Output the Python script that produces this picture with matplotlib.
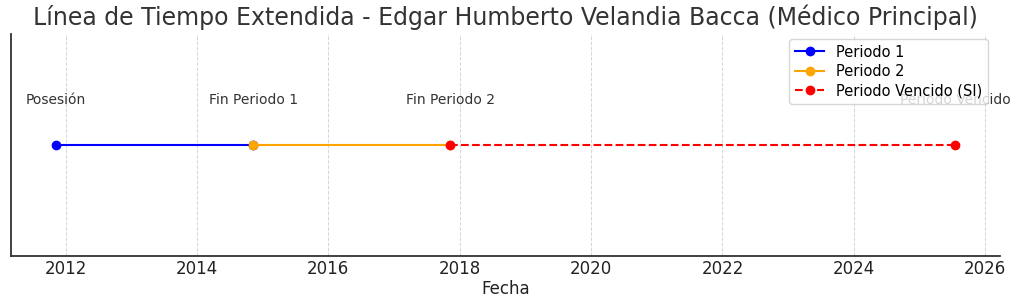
import datetime as dt
import matplotlib
matplotlib.use("Agg")
import matplotlib.pyplot as plt
import matplotlib.dates as mdates

# fechas clave
posesion = dt.datetime(2011, 11, 10)
fin_periodo_1 = dt.datetime(2014, 11, 10)
fin_periodo_2 = dt.datetime(2017, 11, 10)
fin_vencido = dt.datetime(2025, 7, 20)

periodo_1 = [posesion, fin_periodo_1]
periodo_2 = [fin_periodo_1, fin_periodo_2]
periodo_vencido = [fin_periodo_2, fin_vencido]

etiquetas = ["Posesión", "Fin Periodo 1", "Fin Periodo 2", "Periodo Vencido"]
fechas_etiquetas = [posesion, fin_periodo_1, fin_periodo_2, fin_vencido]

fig, ax = plt.subplots(figsize=(10.24, 3.06), dpi=100)

ax.plot(periodo_1, [1, 1], color="blue", marker="o", lw=1.5, ms=6, label="Periodo 1")
ax.plot(periodo_2, [1, 1], color="orange", marker="o", lw=1.5, ms=6, label="Periodo 2")
ax.plot(periodo_vencido, [1, 1], color="red", marker="o", lw=1.5, ms=6,
        linestyle="--", label="Periodo Vencido (SI)")

for fecha, txt in zip(fechas_etiquetas, etiquetas):
    ax.text(fecha, 1.2, txt, ha="center", va="center", fontsize=10, color="#333333")

ax.set_ylim(0.5, 1.5)
ax.set_yticks([])
ax.xaxis.set_major_locator(mdates.YearLocator(2))
ax.xaxis.set_major_formatter(mdates.DateFormatter("%Y"))
ax.tick_params(axis="x", labelsize=12, colors="#222222", length=0, pad=3)

ax.grid(axis="x", linestyle="--", color="#d5d5d5", lw=0.7)
ax.spines["top"].set_visible(False)
ax.spines["right"].set_visible(False)
ax.spines["left"].set_color("#333333")
ax.spines["bottom"].set_color("#333333")
ax.spines["left"].set_linewidth(1.3)
ax.spines["bottom"].set_linewidth(1.3)

ax.set_xlabel("Fecha", fontsize=12, color="#222222", labelpad=2)
ax.set_title("Línea de Tiempo Extendida - Edgar Humberto Velandia Bacca (Médico Principal)",
             fontsize=17, color="#333333", pad=6)
ax.legend(loc="upper right", fontsize=10.5, framealpha=0.8, labelspacing=0.3,
          bbox_to_anchor=(0.995, 1.01))

plt.subplots_adjust(left=0.011, right=0.977, top=0.89, bottom=0.165)
plt.savefig("out.png", dpi=100)
